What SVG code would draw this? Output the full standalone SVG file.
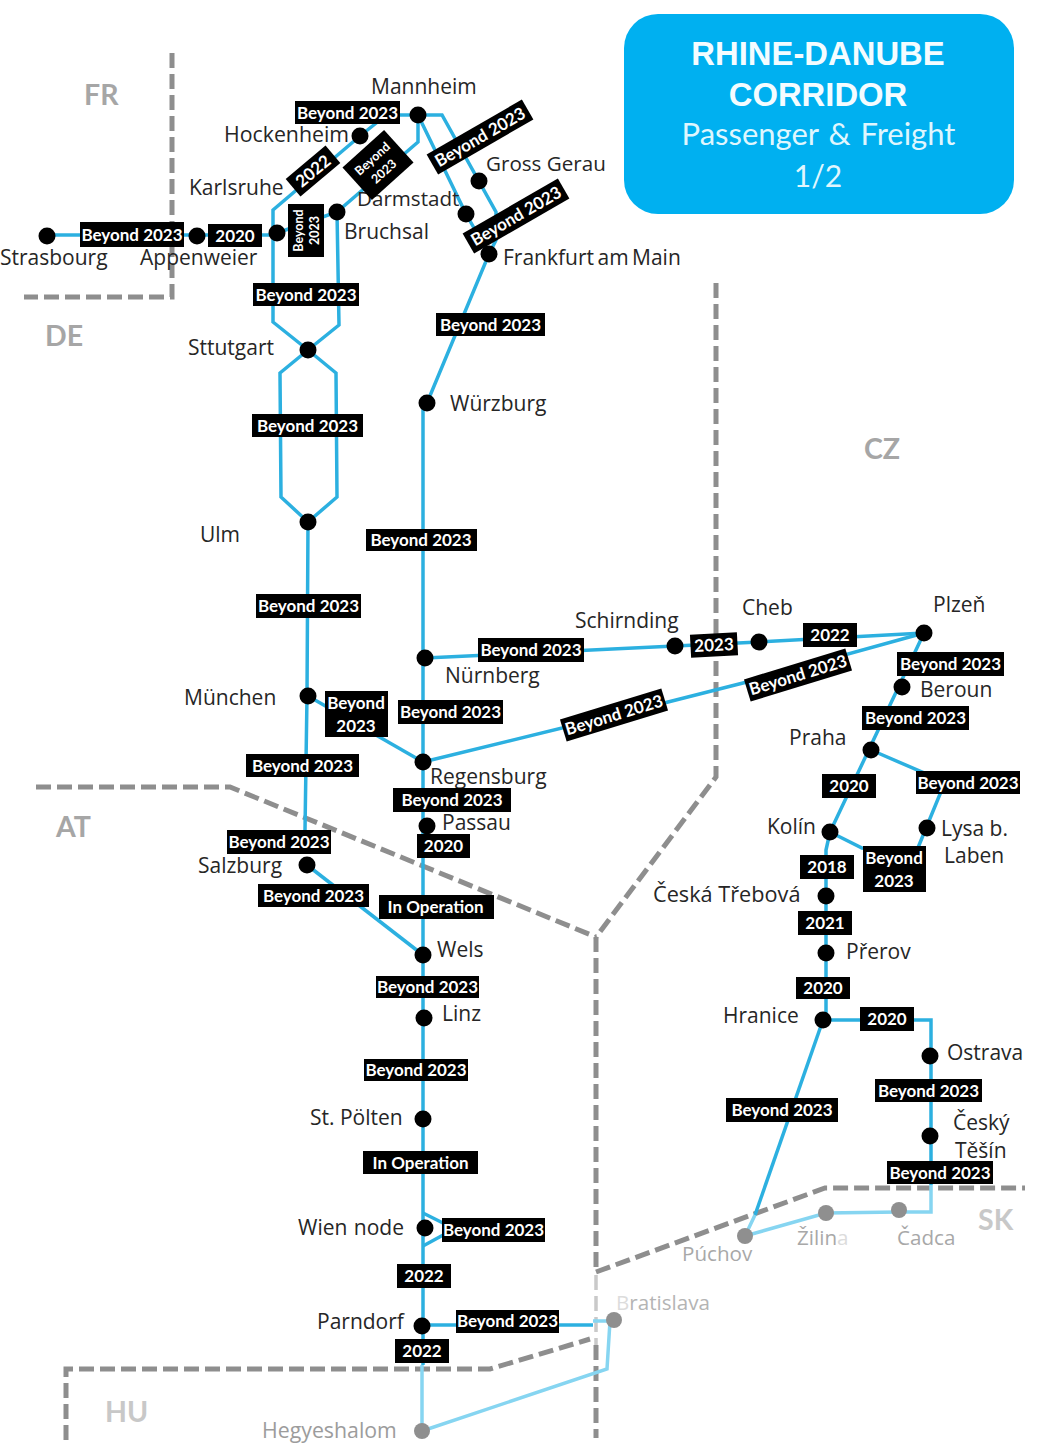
<svg xmlns="http://www.w3.org/2000/svg" width="1038" height="1447" viewBox="0 0 1038 1447">
<style>
  text { font-family: "Open Sans", "Noto Sans", sans-serif; }
  .name { font-size: 21px; fill: #262626; }
  .far { font-size: 20.6px; fill: #a8a8a8; }
  .country { font-family: "Lato", "Open Sans", sans-serif; font-size: 28.5px; font-weight: 700; fill: #a6a6a6; }
  .stop { fill: #000; }
  .stop-far { fill: #8f8f8f; }
  .line { fill: none; stroke: #2cb0e0; stroke-width: 3.5; stroke-linejoin: miter; }
  .line-far { fill: none; stroke: #86d5f1; stroke-width: 3.5; }
  .border { fill: none; stroke: #8e8e8e; stroke-width: 5; stroke-dasharray: 15 6; }
  .border-far { fill: none; stroke: #c9c9c9; stroke-width: 3.5; stroke-dasharray: 15 6; }
  .tag rect { fill: #000; }
  .tag text { font-family: "Lato", "Open Sans", sans-serif; font-size: 17px; font-weight: 700; fill: #fff; text-anchor: middle; }
  .tag text.small { font-size: 12.5px; }
  .title-main { font-family: "Liberation Sans", Arial, sans-serif; font-size: 32.8px; font-weight: 700; fill: #f4fcff; text-anchor: middle; }
  .title-sub { font-family: "Lato", "Open Sans", sans-serif; fill: #dff6fe; text-anchor: middle; }
</style>

<!-- Corridor title panel -->
<g id="title-panel">
  <rect x="624" y="14" width="390" height="200" rx="34" fill="#00b0f0"/>
  <text class="title-main" x="818" y="65">RHINE-DANUBE</text>
  <text class="title-main" x="818" y="106">CORRIDOR</text>
  <text class="title-sub" x="818.5" y="145" font-size="31" style="word-spacing:2px">Passenger &amp; Freight</text>
  <text class="title-sub" x="818" y="187" font-size="30">1/2</text>
</g>

<!-- National borders -->
<g id="borders">
  <path class="border" d="M172 53V297H24"/>
  <path class="border" d="M36 787H230L596 937"/>
  <path class="border" d="M716 283V777L596 937"/>
  <path class="border" d="M596 937V1272"/>
  <path class="border-far" d="M596 1275V1345"/>
  <path class="border" d="M596 1345V1438"/>
  <path class="border" d="M596 1272L825 1188H1025"/>
  <path class="border" d="M66 1440V1369H490L590 1339"/>
  <text class="country" x="84" y="105">FR</text>
  <text class="country" x="45" y="346">DE</text>
  <text class="country" x="864" y="459">CZ</text>
  <text class="country" x="56" y="837">AT</text>
  <text class="country" x="978" y="1230" style="fill:#c8c8c8">SK</text>
  <text class="country" x="105" y="1422" style="fill:#c8c8c8">HU</text>
</g>

<!-- Rail lines -->
<g id="connectors">
  <path class="line" d="M47 235H277"/>
  <path class="line" d="M308 350L273 322V210L360 136L380 120"/>
  <path class="line" d="M400 115H418"/>
  <path class="line" d="M277 233L337 212L418 142V115"/>
  <path class="line" d="M337 212L339 325L308 350"/>
  <path class="line" d="M418 115L442 115L496 212L496 240L489 254"/>
  <path class="line" d="M418 115L466 214L489 254L427 403L423 410V1365"/>
  <path class="line" d="M308 350L280 373L281 497L308 522L337 497L336 373L308 350"/>
  <path class="line" d="M308 522L307 696L305 830"/>
  <path class="line" d="M308 696L423 762"/>
  <path class="line" d="M307 865L423 955"/>
  <path class="line" d="M425 658L675 646L759 642L924 633"/>
  <path class="line" d="M423 762L668 702L743 683L924 633"/>
  <path class="line" d="M924 633L830 832L826 850V1020"/>
  <path class="line" d="M871 750L945 782L915 855L862 848L830 832"/>
  <path class="line" d="M823 1020H931V1185"/>
  <path class="line" d="M823 1020L755 1215"/>
  <path class="line" d="M423 1213L445 1224"/>
  <path class="line" d="M423 1246L445 1234"/>
  <path class="line" d="M422 1325H593"/>
  <path class="line-far" d="M593 1321H610L607 1369L422 1431V1365"/>
  <path class="line-far" d="M931 1185V1212H899L826 1213L745 1236L755 1215"/>
</g>

<!-- Stations -->
<g id="node-strasbourg"><circle class="stop" cx="47" cy="236" r="8.5"/><text class="name" x="0" y="265">Strasbourg</text></g>
<g id="node-appenweier"><circle class="stop" cx="197" cy="236" r="8.5"/><text class="name" x="140" y="265">Appenweier</text></g>
<g id="node-karlsruhe"><circle class="stop" cx="277" cy="233" r="8.5"/><text class="name" x="189" y="195">Karlsruhe</text></g>
<g id="node-bruchsal"><circle class="stop" cx="337" cy="212" r="8.5"/><text class="name" x="344" y="239">Bruchsal</text></g>
<g id="node-hockenheim"><circle class="stop" cx="360" cy="136" r="8.5"/><text class="name" x="224" y="142" style="font-size:21.3px">Hockenheim</text></g>
<g id="node-mannheim"><circle class="stop" cx="418" cy="115" r="8.5"/><text class="name" x="371" y="94">Mannheim</text></g>
<g id="node-gross-gerau"><circle class="stop" cx="479" cy="181" r="8.5"/><text class="name" x="486" y="171" style="font-size:20.6px">Gross Gerau</text></g>
<g id="node-darmstadt"><circle class="stop" cx="466" cy="214" r="8.5"/><text class="name" x="357" y="206" style="font-size:20.6px">Darmstadt</text></g>
<g id="node-frankfurt"><circle class="stop" cx="489" cy="254" r="8.5"/><text class="name" x="503" y="265" style="word-spacing:-2px">Frankfurt am Main</text></g>
<g id="node-wuerzburg"><circle class="stop" cx="427" cy="403" r="8.5"/><text class="name" x="450" y="411">Würzburg</text></g>
<g id="node-stuttgart"><circle class="stop" cx="308" cy="350" r="8.5"/><text class="name" x="188" y="355">Sttutgart</text></g>
<g id="node-ulm"><circle class="stop" cx="308" cy="522" r="8.5"/><text class="name" x="200" y="542">Ulm</text></g>
<g id="node-muenchen"><circle class="stop" cx="308" cy="696" r="8.5"/><text class="name" x="184" y="705">München</text></g>
<g id="node-nuernberg"><circle class="stop" cx="425" cy="658" r="8.5"/><text class="name" x="445" y="683">Nürnberg</text></g>
<g id="node-regensburg"><circle class="stop" cx="423" cy="762" r="8.5"/><text class="name" x="430" y="784">Regensburg</text></g>
<g id="node-passau"><circle class="stop" cx="427" cy="826" r="8.5"/><text class="name" x="442" y="830">Passau</text></g>
<g id="node-salzburg"><circle class="stop" cx="307" cy="865" r="8.5"/><text class="name" x="198" y="873">Salzburg</text></g>
<g id="node-wels"><circle class="stop" cx="423" cy="955" r="8.5"/><text class="name" x="437" y="957">Wels</text></g>
<g id="node-linz"><circle class="stop" cx="424" cy="1018" r="8.5"/><text class="name" x="442" y="1021">Linz</text></g>
<g id="node-st-poelten"><circle class="stop" cx="423" cy="1119" r="8.5"/><text class="name" x="310" y="1125">St. Pölten</text></g>
<g id="node-wien"><circle class="stop" cx="425" cy="1228" r="8.5"/><text class="name" x="298" y="1235" style="word-spacing:1px">Wien node</text></g>
<g id="node-parndorf"><circle class="stop" cx="422" cy="1326" r="8.5"/><text class="name" x="317" y="1329">Parndorf</text></g>
<g id="node-hegyeshalom"><circle class="stop-far" cx="422" cy="1431" r="8"/><text class="far" x="262" y="1438" style="font-size:21.3px;fill:#9c9c9c">Hegyeshalom</text></g>
<g id="node-bratislava"><circle class="stop-far" cx="614" cy="1320" r="8"/><text class="far" x="616" y="1310" style="fill:#b4b4b4"><tspan style="fill:#dcdcdc">B</tspan>ratislava</text></g>
<g id="node-schirnding"><circle class="stop" cx="675" cy="646" r="8.5"/><text class="name" x="575" y="628">Schirnding</text></g>
<g id="node-cheb"><circle class="stop" cx="759" cy="642" r="8.5"/><text class="name" x="742" y="615">Cheb</text></g>
<g id="node-plzen"><circle class="stop" cx="924" cy="633" r="8.5"/><text class="name" x="933" y="612">Plzeň</text></g>
<g id="node-beroun"><circle class="stop" cx="902" cy="687" r="8.5"/><text class="name" x="920" y="697">Beroun</text></g>
<g id="node-praha"><circle class="stop" cx="871" cy="750" r="8.5"/><text class="name" x="789" y="745">Praha</text></g>
<g id="node-kolin"><circle class="stop" cx="830" cy="832" r="8.5"/><text class="name" x="767" y="834">Kolín</text></g>
<g id="node-lysa"><circle class="stop" cx="927" cy="828" r="8.5"/><text class="name" x="941" y="836">Lysa b.</text><text class="name" x="944" y="863">Laben</text></g>
<g id="node-ceska-trebova"><circle class="stop" cx="826" cy="896" r="8.5"/><text class="name" x="653" y="902" style="font-size:21.7px">Česká Třebová</text></g>
<g id="node-prerov"><circle class="stop" cx="826" cy="953" r="8.5"/><text class="name" x="846" y="959">Přerov</text></g>
<g id="node-hranice"><circle class="stop" cx="823" cy="1020" r="8.5"/><text class="name" x="723" y="1023">Hranice</text></g>
<g id="node-ostrava"><circle class="stop" cx="930" cy="1056" r="8.5"/><text class="name" x="947" y="1060">Ostrava</text></g>
<g id="node-cesky-tesin"><circle class="stop" cx="930" cy="1136" r="8.5"/><text class="name" x="953" y="1130">Český</text><text class="name" x="955" y="1158">Těšín</text></g>
<g id="node-puchov"><circle class="stop-far" cx="745" cy="1236" r="8"/><text class="far" x="682" y="1261">Púchov</text></g>
<g id="node-zilina"><circle class="stop-far" cx="826" cy="1213" r="8"/><text class="far" x="797" y="1245">Žilin<tspan style="fill:#dcdcdc">a</tspan></text></g>
<g id="node-cadca"><circle class="stop-far" cx="899" cy="1210" r="8"/><text class="far" x="897" y="1245">Čadca</text></g>

<!-- Completion-year tags -->
<g id="tags">
  <g class="tag"><rect x="295" y="101" width="105" height="23"/><text x="347.5" y="118.5">Beyond 2023</text></g>
  <g class="tag"><rect x="80" y="222" width="104" height="25"/><text x="132" y="240.5">Beyond 2023</text></g>
  <g class="tag"><rect x="208" y="224" width="54" height="23"/><text x="235" y="241.5">2020</text></g>
  <g class="tag" transform="translate(306 230.5) rotate(-90)"><rect x="-26.5" y="-18" width="53" height="36"/><text class="small" x="0" y="-3">Beyond</text><text class="small" x="0" y="13">2023</text></g>
  <g class="tag" transform="translate(313 171) rotate(-40)"><rect x="-26" y="-11.5" width="52" height="23"/><text x="0" y="6">2022</text></g>
  <g class="tag" transform="translate(378 165) rotate(-42)"><rect x="-28" y="-22" width="56" height="44"/><text class="small" x="0" y="-4">Beyond</text><text class="small" x="0" y="13">2023</text></g>
  <g class="tag" transform="translate(480 137) rotate(-30)"><rect x="-55" y="-11.5" width="110" height="23"/><text x="0" y="6">Beyond 2023</text></g>
  <g class="tag" transform="translate(516 216) rotate(-30)"><rect x="-55" y="-11.5" width="110" height="23"/><text x="0" y="6">Beyond 2023</text></g>
  <g class="tag"><rect x="253" y="283" width="106" height="23"/><text x="306" y="300.5">Beyond 2023</text></g>
  <g class="tag"><rect x="436" y="313" width="109" height="23"/><text x="490.5" y="330.5">Beyond 2023</text></g>
  <g class="tag"><rect x="252" y="414" width="111" height="23"/><text x="307.5" y="431.5">Beyond 2023</text></g>
  <g class="tag"><rect x="366" y="529" width="111" height="22"/><text x="421" y="546">Beyond 2023</text></g>
  <g class="tag"><rect x="256" y="594" width="105" height="24"/><text x="308.5" y="612">Beyond 2023</text></g>
  <g class="tag"><rect x="478" y="638" width="106" height="24"/><text x="531" y="656">Beyond 2023</text></g>
  <g class="tag"><rect x="325" y="691" width="63" height="46"/><text x="356" y="708.5">Beyond</text><text x="356" y="732">2023</text></g>
  <g class="tag"><rect x="398" y="700" width="105" height="24"/><text x="450.5" y="718">Beyond 2023</text></g>
  <g class="tag"><rect x="246" y="754" width="113" height="23"/><text x="302.5" y="772">Beyond 2023</text></g>
  <g class="tag"><rect x="393" y="788" width="118" height="24"/><text x="452" y="806">Beyond 2023</text></g>
  <g class="tag"><rect x="417" y="834" width="53" height="24"/><text x="443.5" y="852">2020</text></g>
  <g class="tag"><rect x="227" y="830" width="104" height="24"/><text x="279" y="847.5">Beyond 2023</text></g>
  <g class="tag"><rect x="258" y="884" width="111" height="23"/><text x="313.5" y="901.5">Beyond 2023</text></g>
  <g class="tag"><rect x="379" y="895" width="115" height="24"/><text x="435.5" y="913">In Operation</text></g>
  <g class="tag"><rect x="376" y="976" width="103" height="22"/><text x="427.5" y="993">Beyond 2023</text></g>
  <g class="tag"><rect x="364" y="1059" width="104" height="22"/><text x="416" y="1076">Beyond 2023</text></g>
  <g class="tag"><rect x="363" y="1151" width="115" height="23"/><text x="420.5" y="1168.5">In Operation</text></g>
  <g class="tag"><rect x="442" y="1218" width="103" height="24"/><text x="493.5" y="1235.5">Beyond 2023</text></g>
  <g class="tag"><rect x="397" y="1264" width="54" height="24"/><text x="424" y="1282">2022</text></g>
  <g class="tag"><rect x="456" y="1310" width="103" height="23"/><text x="507.5" y="1327">Beyond 2023</text></g>
  <g class="tag"><rect x="395" y="1339" width="54" height="24"/><text x="422" y="1357">2022</text></g>
  <g class="tag" transform="translate(714 645) rotate(-3)"><rect x="-23.5" y="-11.5" width="47" height="23"/><text x="0" y="6">2023</text></g>
  <g class="tag"><rect x="803" y="623" width="54" height="24"/><text x="830" y="641">2022</text></g>
  <g class="tag" transform="translate(614 715) rotate(-17)"><rect x="-53" y="-11.5" width="106" height="23"/><text x="0" y="6">Beyond 2023</text></g>
  <g class="tag" transform="translate(798 675) rotate(-17)"><rect x="-53" y="-11.5" width="106" height="23"/><text x="0" y="6">Beyond 2023</text></g>
  <g class="tag"><rect x="897" y="652" width="107" height="24"/><text x="950.5" y="670">Beyond 2023</text></g>
  <g class="tag"><rect x="862" y="706" width="107" height="24"/><text x="915.5" y="724">Beyond 2023</text></g>
  <g class="tag"><rect x="822" y="774" width="54" height="24"/><text x="849" y="792">2020</text></g>
  <g class="tag"><rect x="916" y="771" width="104" height="23"/><text x="968" y="788.5">Beyond 2023</text></g>
  <g class="tag"><rect x="800" y="855" width="54" height="24"/><text x="827" y="873">2018</text></g>
  <g class="tag"><rect x="863" y="846" width="63" height="46"/><text x="894" y="863.5">Beyond</text><text x="894" y="887">2023</text></g>
  <g class="tag"><rect x="798" y="911" width="54" height="24"/><text x="825" y="929">2021</text></g>
  <g class="tag"><rect x="796" y="977" width="54" height="22"/><text x="823" y="994">2020</text></g>
  <g class="tag"><rect x="860" y="1007" width="54" height="24"/><text x="887" y="1025">2020</text></g>
  <g class="tag"><rect x="726" y="1098" width="112" height="24"/><text x="782" y="1116">Beyond 2023</text></g>
  <g class="tag"><rect x="875" y="1079" width="107" height="23"/><text x="928.5" y="1096.5">Beyond 2023</text></g>
  <g class="tag"><rect x="887" y="1161" width="106" height="23"/><text x="940" y="1178.5">Beyond 2023</text></g>
</g>
</svg>
